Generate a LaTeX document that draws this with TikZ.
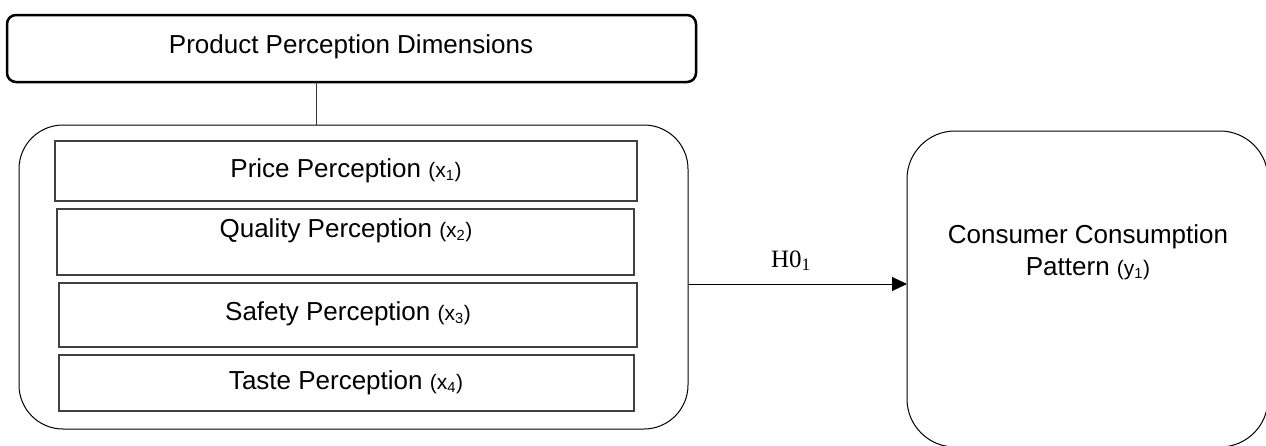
\documentclass[tikz,border=0pt]{standalone}
\usepackage{fontspec}
\setmainfont{Liberation Sans}
\newfontfamily\serifface{Liberation Serif}
\usetikzlibrary{arrows.meta}

% smaller "(x_i)" style variable tag after a label
\newcommand{\vartag}[2]{{\fontsize{21}{24}\selectfont(#1\textsubscript{#2})}}

\begin{document}
\begin{tikzpicture}[x=1pt,y=-1pt,
  heading/.style={draw=black, line width=2.5pt, rounded corners=9pt,
    anchor=north west, inner sep=0pt, outer sep=0pt},
  group/.style={draw=black, line width=1pt, rounded corners=44pt,
    anchor=north west, inner sep=0pt, outer sep=0pt},
  outcome/.style={draw=black, line width=1pt, rounded corners=48pt,
    anchor=north west, inner sep=0pt, outer sep=0pt},
  itembox/.style={draw=black!75, line width=1.1pt,
    anchor=north west, inner sep=0pt, outer sep=0pt},
  txt/.style={anchor=base, inner sep=0pt, font=\fontsize{26}{32}\selectfont},
  link/.style={draw=black!80, line width=1pt},
  arrowlink/.style={draw=black, line width=1pt,
    -{Triangle[length=15pt,width=14pt]}}
]
\useasboundingbox (0,0) rectangle (1266,445);

% heading box and its stem
\node[heading, minimum width=689pt, minimum height=67pt] (dims) at (7,15) {};
\node[txt] (dimstext) at (351,53) {Product Perception Dimensions};

% rounded group holding the four perception boxes
\node[group, minimum width=669pt, minimum height=304pt] (grp) at (19,125) {};
\coordinate (stem) at (316,0);
\draw[link] (dims.south -| stem) -- (grp.north -| stem);

\node[itembox, minimum width=582pt, minimum height=60pt] (price) at (55,141) {};
\node[itembox, minimum width=577pt, minimum height=66pt] (quality) at (57,209) {};
\node[itembox, minimum width=578pt, minimum height=64pt] (safety) at (59,283) {};
\node[itembox, minimum width=575pt, minimum height=56pt] (taste) at (59,355) {};

\node[txt] (pricetext) at (346,177) {Price Perception \vartag{x}{1}};
\node[txt] (qualitytext) at (346,237) {Quality Perception \vartag{x}{2}};
\node[txt] (safetytext) at (348,320) {Safety Perception \vartag{x}{3}};
\node[txt] (tastetext) at (346,389) {Taste Perception \vartag{x}{4}};

% outcome box on the right
\node[outcome, minimum width=361pt, minimum height=316pt] (cons) at (907,131) {};
\node[txt] (constext1) at (1088,243) {Consumer Consumption};
\node[txt] (constext2) at (1088,275) {Pattern \vartag{y}{1}};

% hypothesis arrow
\coordinate (level) at (0,284);
\draw[arrowlink] (grp.east |- level) -- (cons.west |- level)
  node[pos=0.47, above=17pt, anchor=base, inner sep=0pt,
       font=\serifface\fontsize{25}{30}\selectfont] (hyp) {H0\textsubscript{1}};
\end{tikzpicture}
\end{document}
